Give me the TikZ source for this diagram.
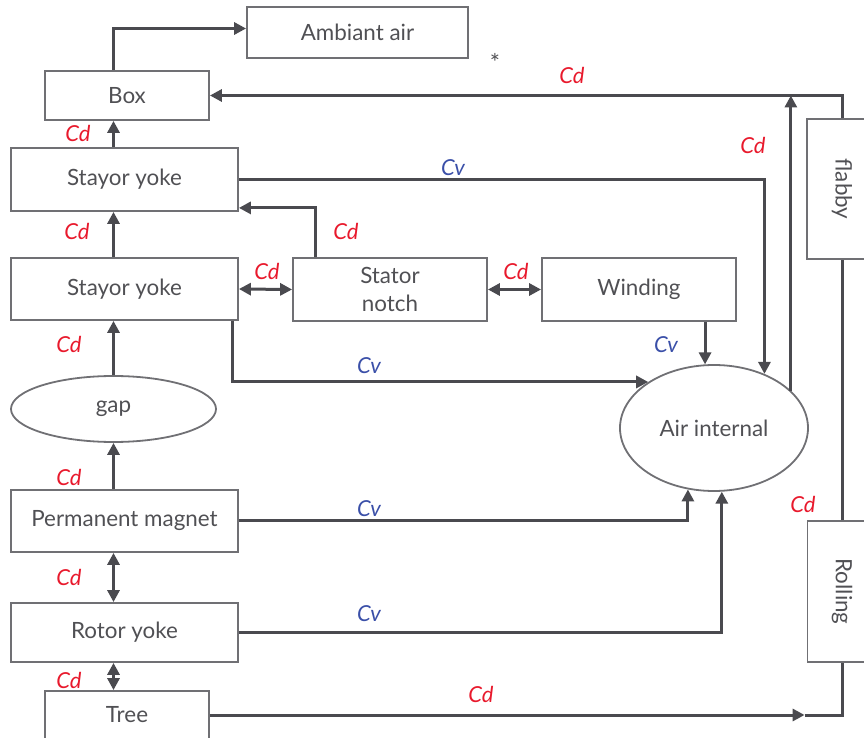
\documentclass[tikz,border=0pt]{standalone}
\usepackage{fontspec}
\setmainfont{Lato}
\usetikzlibrary{calc,arrows.meta,shapes.geometric}
\definecolor{ln}{HTML}{4A4A4F}
\definecolor{bd}{HTML}{707074}
\definecolor{tx}{HTML}{505054}
\definecolor{rd}{HTML}{E8192C}
\definecolor{bl}{HTML}{3A4FA8}

\begin{document}
\begin{tikzpicture}[x=0.5pt,y=-0.5pt,
    blk/.style={draw=bd,line width=0.9pt,text=tx,inner sep=0pt,align=center,
      font=\fontsize{11.2}{14}\selectfont},
    tip/.tip={Triangle[length=6pt,width=6pt]},
    con/.style={draw=ln,line width=1.5pt,-tip},
    dcon/.style={draw=ln,line width=1.5pt,tip-tip},
    cd/.style={text=rd,font=\fontsize{11}{13}\selectfont\itshape},
    cv/.style={text=bl,font=\fontsize{11}{13}\selectfont\itshape}]
    \useasboundingbox (0,0) rectangle (864,738);
    % blocks
    \node [blk,minimum width=110.5pt,minimum height=25.5pt] (amb) at (357.5,32.5) {Ambiant air};
    \node [blk,minimum width=82pt,minimum height=24.5pt] (box) at (127,95.5) {Box};
    \node [blk,minimum width=113.5pt,minimum height=31.5pt] (yA) at (124.5,179.5) {Stayor yoke};
    \node [blk,minimum width=113.5pt,minimum height=31pt] (yB) at (124.5,289) {Stayor yoke};
    \node [blk,minimum width=97pt,minimum height=31.5pt] (notch) at (390,289.5) {Stator\\ notch};
    \node [blk,minimum width=97pt,minimum height=31.5pt] (wind) at (639,289.5) {Winding};
    \node [blk,ellipse,minimum width=102.5pt,minimum height=33pt] (gap) at (113.5,409) {gap};
    \node [blk,ellipse,minimum width=94pt,minimum height=63pt] (air) at (714,428) {Air internal};
    \node [blk,minimum width=113.5pt,minimum height=31pt] (pm) at (124.5,521) {Permanent magnet};
    \node [blk,minimum width=113.5pt,minimum height=29.5pt] (rot) at (124.5,632.5) {Rotor yoke};
    \node [blk,minimum width=82pt,minimum height=24pt] (tree) at (127,715) {Tree};
    % rotated blocks: west is the top, east the bottom, south the left side
    \node [blk,rotate=-90,minimum width=70pt,minimum height=35pt] (flab) at (842,189) {flabby};
    \node [blk,rotate=-90,minimum width=70.5pt,minimum height=34.5pt] (rol) at (842,591.5) {Rolling};
    \node [text=tx,font=\large] (star) at (495,62) {*};
    % connectors
    \draw [con] (box.north -| gap) |- ([yshift=2pt]amb.west);
    \draw [con] (yA.north -| gap) -- (box.south -| gap);
    \draw [con] (yB.north -| gap) -- (yA.south -| gap);
    \draw [con] (gap.north) -- (yB.south -| gap);
    \draw [con] (pm.north -| gap) -- (gap.south);
    \draw [dcon] (pm.south -| gap) -- (rot.north -| gap);
    \draw [dcon] (rot.south -| gap) -- (tree.north -| gap);
    \draw [dcon] (yB.east) -- (notch.west);
    \draw [dcon] (notch.east) -- (wind.west);
    \draw [con] ($(notch.north west)+(23,0)$) |- ($(yA.south east)+(0,-4)$);
    \draw [con] (yA.east) -| (air.47);
    \draw [con] ($(yB.south east)+(-6,0)$) |- (air.145);
    \draw [con] (wind.south -| air.98) -- (air.98);
    \draw [con] (pm.east) -| (air.247.6);
    \draw [con] (rot.east) -| (air.277.3);
    \draw [con] (flab.west) |- (box.east);
    \draw [con] (air.26) -- (air.26 |- box.east);
    \draw [draw=ln,line width=1.5pt] (rol.west) -- (flab.east);
    \coordinate (t2) at ($(tree.east -| rol.south)+(-2,0)$);
    \draw [con] (tree.east) -- (t2);
    \draw [draw=ln,line width=1.5pt] (t2) -| (rol.east);
    % labels
    \node [cd] (c1) at (572,75) {Cd};
    \node [cd] (c2) at (753,145) {Cd};
    \node [cd] (c3) at (346,231) {Cd};
    \node [cd] (c4) at (267,271) {Cd};
    \node [cd] (c5) at (516,271) {Cd};
    \node [cd] (c6) at (78,133) {Cd};
    \node [cd] (c7) at (77,231) {Cd};
    \node [cd] (c8) at (69,344) {Cd};
    \node [cd] (c9) at (69,477) {Cd};
    \node [cd] (c10) at (69,577) {Cd};
    \node [cd] (c11) at (69,680) {Cd};
    \node [cd] (c12) at (803,504) {Cd};
    \node [cd] (c13) at (481,694) {Cd};
    \node [cv] (v1) at (453,168) {Cv};
    \node [cv] (v2) at (369,366) {Cv};
    \node [cv] (v3) at (666,345) {Cv};
    \node [cv] (v4) at (369,509) {Cv};
    \node [cv] (v5) at (369,614) {Cv};
\end{tikzpicture}
\end{document}
